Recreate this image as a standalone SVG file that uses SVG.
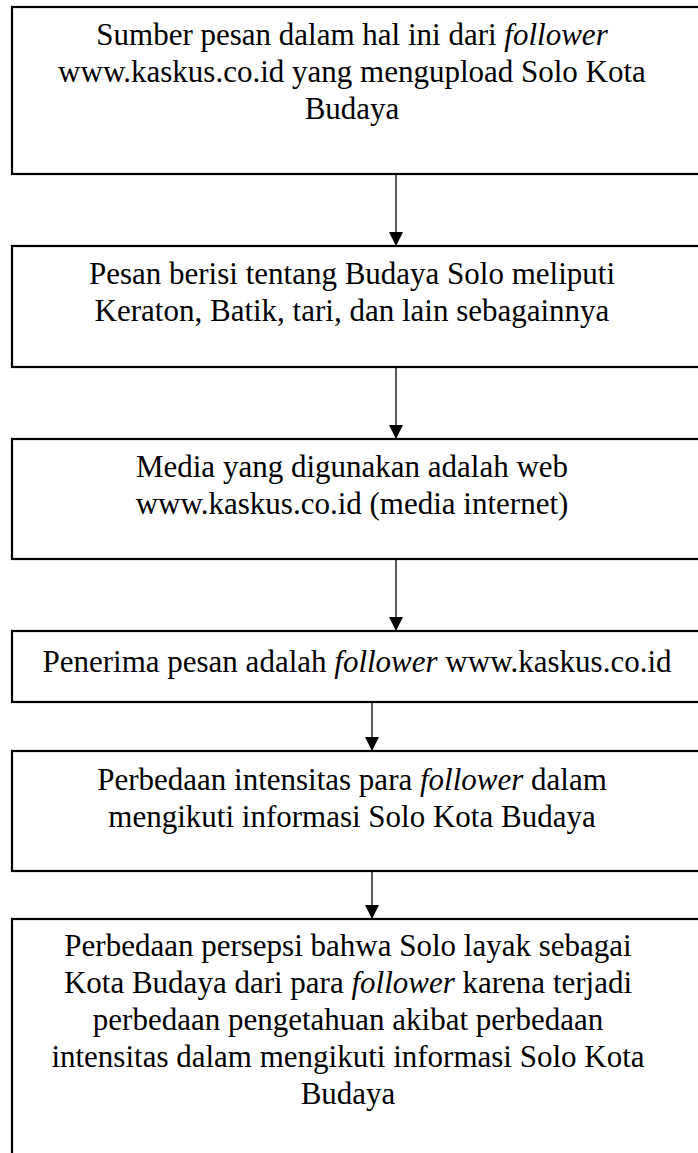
<svg xmlns="http://www.w3.org/2000/svg" width="698" height="1153" viewBox="0 0 698 1153">
<defs>
<style>
.box{fill:#fff;stroke:#000;stroke-width:2.2}
.t{font-family:"Liberation Serif","Times New Roman",serif;font-size:31px;fill:#000;text-anchor:middle}
.i{font-style:italic}
.c{stroke:#000;stroke-width:1.3;fill:none}
</style>
<marker id="ah" viewBox="0 0 14 14" refX="14" refY="7" markerWidth="14" markerHeight="14" markerUnits="userSpaceOnUse" orient="auto">
<path d="M0,0 L14,7 L0,14 Z" fill="#000"/>
</marker>
</defs>
<rect width="698" height="1153" fill="#fff"/>
<g id="connectors">
<line class="c" x1="396" y1="174" x2="396" y2="246" marker-end="url(#ah)"/>
<line class="c" x1="396" y1="367" x2="396" y2="439" marker-end="url(#ah)"/>
<line class="c" x1="396" y1="559" x2="396" y2="631" marker-end="url(#ah)"/>
<line class="c" x1="372" y1="702" x2="372" y2="751" marker-end="url(#ah)"/>
<line class="c" x1="372" y1="871" x2="372" y2="919" marker-end="url(#ah)"/>
</g>
<g id="n1">
<rect class="box" x="12" y="7" width="720" height="167"/>
<text class="t" x="352" y="45">Sumber pesan dalam hal ini dari <tspan class="i">follower</tspan></text>
<text class="t" x="352" y="82">www.kaskus.co.id yang mengupload Solo Kota</text>
<text class="t" x="352" y="119">Budaya</text>
</g>
<g id="n2">
<rect class="box" x="12" y="246" width="720" height="121"/>
<text class="t" x="352" y="284">Pesan berisi tentang Budaya Solo meliputi</text>
<text class="t" x="352" y="321">Keraton, Batik, tari, dan lain sebagainnya</text>
</g>
<g id="n3">
<rect class="box" x="12" y="439" width="720" height="120"/>
<text class="t" x="352" y="477">Media yang digunakan adalah web</text>
<text class="t" x="352" y="514">www.kaskus.co.id (media internet)</text>
</g>
<g id="n4">
<rect class="box" x="12" y="631" width="720" height="71"/>
<text class="t" x="357" y="672">Penerima pesan adalah <tspan class="i">follower</tspan> www.kaskus.co.id</text>
</g>
<g id="n5">
<rect class="box" x="12" y="751" width="720" height="120"/>
<text class="t" x="352" y="790">Perbedaan intensitas para <tspan class="i">follower</tspan> dalam</text>
<text class="t" x="352" y="827">mengikuti informasi Solo Kota Budaya</text>
</g>
<g id="n6">
<rect class="box" x="12" y="919" width="720" height="260"/>
<text class="t" x="348" y="956">Perbedaan persepsi bahwa Solo layak sebagai</text>
<text class="t" x="348" y="993">Kota Budaya dari para <tspan class="i">follower</tspan> karena terjadi</text>
<text class="t" x="348" y="1030">perbedaan pengetahuan akibat perbedaan</text>
<text class="t" x="348" y="1067">intensitas dalam mengikuti informasi Solo Kota</text>
<text class="t" x="348" y="1104">Budaya</text>
</g>
</svg>
